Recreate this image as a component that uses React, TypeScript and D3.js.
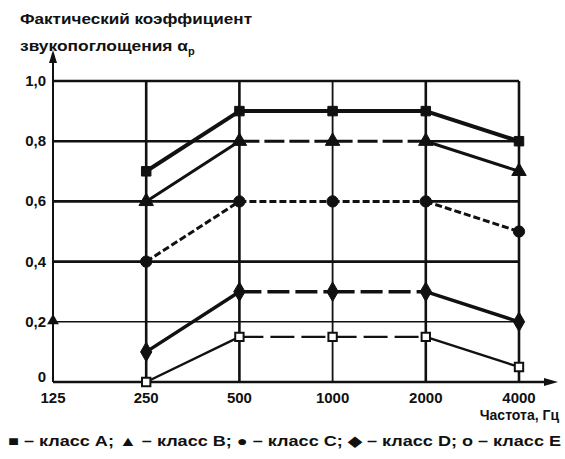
import { useEffect, useRef } from 'react';
import * as d3 from 'd3';

// frequencies, Hz
const freqs = [250, 500, 1000, 2000, 4000];
const xTicks = [125, 250, 500, 1000, 2000, 4000];
const yTicks = [0, 0.2, 0.4, 0.6, 0.8, 1.0];
const yTickLabels = ['0', '0,2', '0,4', '0,6', '0,8', '1,0'];

// absorption coefficient per class
const classA = [0.7, 0.9, 0.9, 0.9, 0.8];
const classB = [0.6, 0.8, 0.8, 0.8, 0.7];
const classC = [0.4, 0.6, 0.6, 0.6, 0.5];
const classD = [0.1, 0.3, 0.3, 0.3, 0.2];
const classE = [0.0, 0.15, 0.15, 0.15, 0.05];

const seriesNames = ['A', 'B', 'C', 'D', 'E'];

export default function App() {
    const ref = useRef<SVGSVGElement | null>(null);

    useEffect(() => {
        const width = 565;
        const height = 459;
        const svg = d3.select(ref.current);
        svg.selectAll('*').remove();
        svg.attr('width', width).attr('height', height);

        const font = '"Liberation Sans", Arial, sans-serif';
        const ink = '#111';

        const x = d3.scaleLog().base(2).domain([125, 4000]).range([53, 519]);
        const y = d3.scaleLinear().domain([0, 1]).range([382, 81]);

        // === grid ===
        const grid = svg.append('g');
        grid.selectAll('line.h')
            .data(yTicks.slice(1))
            .enter()
            .append('line')
            .attr('x1', x(125))
            .attr('x2', x(4000))
            .attr('y1', (d) => y(d))
            .attr('y2', (d) => y(d))
            .attr('stroke', ink)
            .attr('stroke-width', (d) => (d === 0.2 ? 1.6 : 2.6));

        grid.selectAll('line.v')
            .data(freqs)
            .enter()
            .append('line')
            .attr('x1', (d) => x(d))
            .attr('x2', (d) => x(d))
            .attr('y1', y(0))
            .attr('y2', y(1))
            .attr('stroke', ink)
            .attr('stroke-width', (d) => (d === 1000 ? 1.8 : 2.6));

        // === axes with arrows ===
        svg.append('line')
            .attr('x1', x(125)).attr('x2', x(125))
            .attr('y1', y(0)).attr('y2', 58)
            .attr('stroke', ink).attr('stroke-width', 2);
        svg.append('path')
            .attr('d', `M${x(125)},50 L${x(125) - 4},63 L${x(125) + 4},63 Z`)
            .attr('fill', ink);

        svg.append('line')
            .attr('x1', x(125)).attr('x2', 550)
            .attr('y1', y(0)).attr('y2', y(0))
            .attr('stroke', ink).attr('stroke-width', 2.4);
        svg.append('path')
            .attr('d', `M558,${y(0)} L544,${y(0) - 4} L544,${y(0) + 4} Z`)
            .attr('fill', ink);

        // === tick labels ===
        svg.selectAll('text.yt')
            .data(yTicks)
            .enter()
            .append('text')
            .attr('x', 46)
            .attr('y', (d) => (d === 0 ? y(d) : y(d) + 5))
            .attr('text-anchor', 'end')
            .attr('font-family', font)
            .attr('font-weight', 'bold')
            .attr('font-size', 15)
            .attr('fill', ink)
            .text((_, i) => yTickLabels[i]);

        // stray triangle next to 0,2 in the original figure
        svg.append('path')
            .attr('d', d3.symbol(d3.symbolTriangle, 60)())
            .attr('transform', `translate(${x(125)},${y(0.2) - 1})`)
            .attr('fill', ink);

        svg.selectAll('text.xt')
            .data(xTicks)
            .enter()
            .append('text')
            .attr('x', (d) => x(d))
            .attr('y', 403)
            .attr('text-anchor', 'middle')
            .attr('font-family', font)
            .attr('font-weight', 'bold')
            .attr('font-size', 15)
            .attr('fill', ink)
            .text((d) => String(d));

        // === series ===
        const series = [classA, classB, classC, classD, classE];
        const styles = [
            { w: 4, dash: null as string | null, slantDash: false },
            { w: 3, dash: '20 5', slantDash: false },
            { w: 3, dash: '7 3', slantDash: true },
            { w: 3.5, dash: '22 6', slantDash: false },
            { w: 2.4, dash: '24 7', slantDash: false },
        ];

        series.forEach((vals, si) => {
            const st = styles[si];
            const g = svg.append('g');
            const segs = d3.pairs(vals.map((v, i) => [x(freqs[i]), y(v)] as [number, number]));
            segs.forEach(([a, b]) => {
                const flat = a[1] === b[1];
                const dashed = st.dash && (flat || st.slantDash);
                if (dashed && flat) {
                    // white gaps break the gridline under dashed runs
                    g.append('line')
                        .attr('x1', a[0]).attr('y1', a[1])
                        .attr('x2', b[0]).attr('y2', b[1])
                        .attr('stroke', '#fff')
                        .attr('stroke-width', 4);
                }
                const l = g.append('line')
                    .attr('x1', a[0]).attr('y1', a[1])
                    .attr('x2', b[0]).attr('y2', b[1])
                    .attr('stroke', ink)
                    .attr('stroke-width', st.w);
                if (dashed) l.attr('stroke-dasharray', st.dash as string);
            });
        });

        const markerSym = [d3.symbolSquare, d3.symbolTriangle, d3.symbolCircle, d3.symbolDiamond, d3.symbolSquare];
        const markerSize = [90, 90, 100, 110, 70];

        series.forEach((vals, si) => {
            svg.append('g')
                .selectAll('path')
                .data(vals)
                .enter()
                .append('path')
                .attr('d', d3.symbol(markerSym[si], markerSize[si])())
                .attr('transform', (d, i) => `translate(${x(freqs[i])},${y(d)})`)
                .attr('fill', si === 4 ? '#fff' : ink)
                .attr('stroke', ink)
                .attr('stroke-width', si === 4 ? 2 : 1);
        });

        // === titles ===
        svg.append('text')
            .attr('x', 20)
            .attr('y', 24)
            .attr('font-family', font)
            .attr('font-weight', 'bold')
            .attr('font-size', 14)
            .attr('textLength', 232)
            .attr('lengthAdjust', 'spacingAndGlyphs')
            .attr('fill', ink)
            .text('Фактический коэффициент');

        const t2 = svg.append('text')
            .attr('x', 20)
            .attr('y', 51)
            .attr('font-family', font)
            .attr('font-weight', 'bold')
            .attr('font-size', 14)
            .attr('fill', ink);
        t2.append('tspan')
            .attr('textLength', 168)
            .attr('lengthAdjust', 'spacingAndGlyphs')
            .text('звукопоглощения α');
        t2.append('tspan').attr('font-size', 11).attr('dy', 4).text('p');

        svg.append('text')
            .attr('x', 559)
            .attr('y', 420)
            .attr('text-anchor', 'end')
            .attr('font-family', font)
            .attr('font-weight', 'bold')
            .attr('font-size', 14)
            .attr('fill', ink)
            .text('Частота, Гц');

        // === legend ===
        const glyphs = ['■', '▲', '●', '◆', 'o'];
        const legendText = seriesNames
            .map((n, i) => `${glyphs[i]} – класс ${n}`)
            .join('; ');
        svg.append('text')
            .attr('x', 8)
            .attr('y', 446)
            .attr('font-family', font)
            .attr('font-weight', 'bold')
            .attr('font-size', 14)
            .attr('textLength', 553)
            .attr('lengthAdjust', 'spacingAndGlyphs')
            .attr('fill', ink)
            .text(legendText);
    }, []);

    return (
        <svg
            ref={ref}
            style={{ position: 'absolute', left: 0, top: 0, background: '#fff' }}
        />
    );
}
